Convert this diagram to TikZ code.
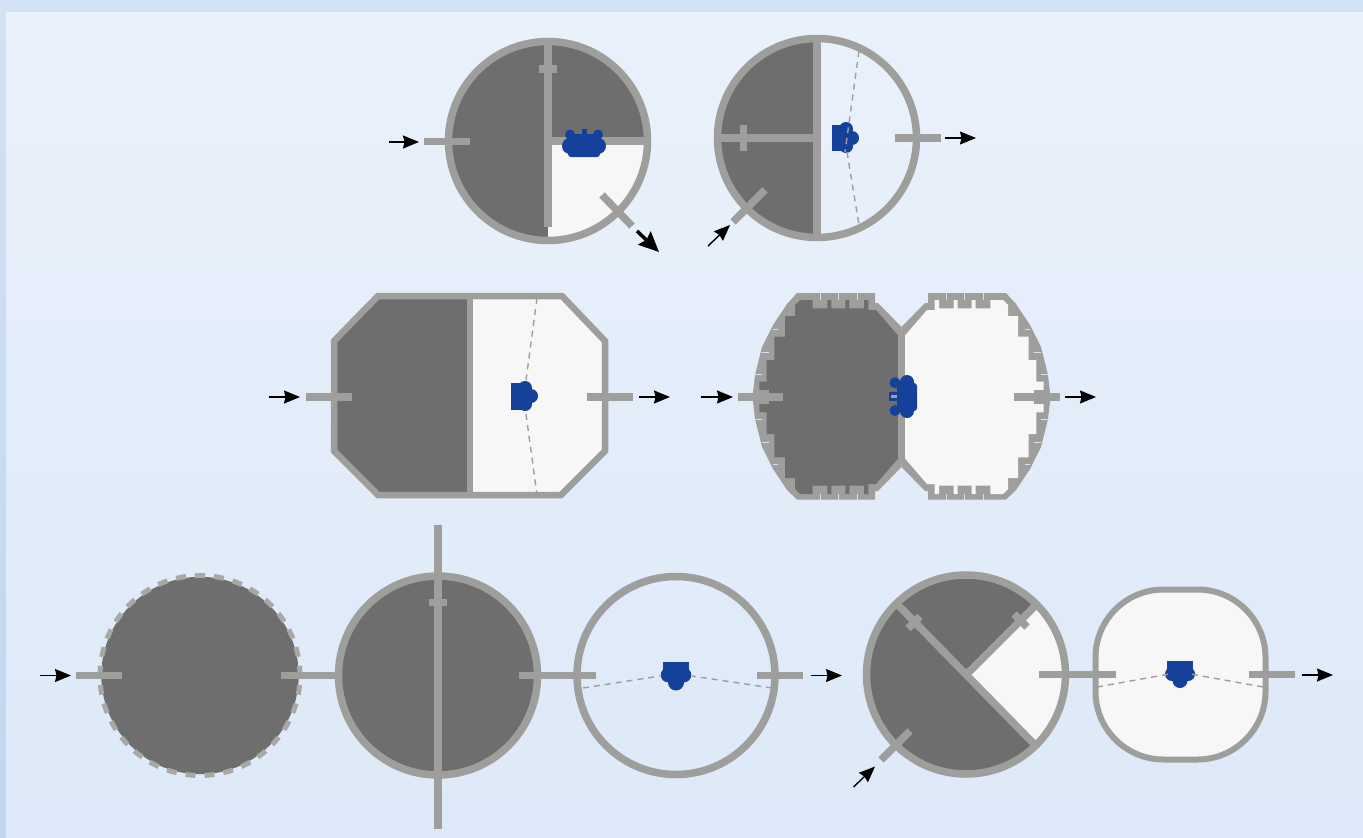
\documentclass[tikz,border=0pt]{standalone}
\usetikzlibrary{arrows.meta}
\definecolor{wallc}{HTML}{9E9E9C}
\definecolor{darkc}{HTML}{6E6E6E}
\definecolor{lightc}{HTML}{F7F7F7}
\definecolor{bluec}{HTML}{15419A}
\definecolor{stripc}{HTML}{D2E1F4}
\definecolor{stripb}{HTML}{C2D5F1}
\definecolor{panelt}{HTML}{E9F1FB}
\definecolor{panelb}{HTML}{DDE9F8}
\tikzset{
  wall/.style={draw=wallc,line width=7.5pt},
  thinwall/.style={draw=wallc,line width=6pt},
  sightline/.style={draw=wallc,line width=1.4pt,dash pattern=on 6pt off 5pt},
  flow/.style={draw=black,line width=1.4pt,-{Stealth[length=16pt,width=13pt,inset=1.5pt]}},
  bigflow/.style={draw=black,line width=3.5pt,-{Stealth[length=20pt,width=18pt,inset=2.5pt]}},
  darkfill/.style={fill=darkc},
  lightfill/.style={fill=lightc},
  motor/.style={fill=bluec},
}
\def\outerpoly{(901.5,327)--(878,303)--(875,303)--(875,293)--(797,293)--(787,304)--(773,325)--(762,347)--(755,375)--(752.5,397)--(755,419)--(762,447)--(773,469)--(787,490)--(797,499.5)--(875,499.5)--(875,491)--(878,491)--(901.5,467)--cycle}
\def\innerpoly{(898,335.5)--(876,310)--(868.3,310)--(868.3,300)--(864,300)--(864,308.3)--(849.3,308.3)--(849.3,300)--(845.3,300)--(845.3,308.3)--(831.3,308.3)--(831.3,300)--(827.3,300)--(827.3,308.3)--(812.7,308.3)--(812.7,300)--(800,300)--(795,305)--(795,316)--(785,316)--(785,336.7)--(774.3,336.7)--(774.3,360)--(766.7,360)--(766.7,381.7)--(759.3,381.7)--(759.3,412.3)--(766.7,412.3)--(766.7,434)--(774.3,434)--(774.3,457.3)--(785,457.3)--(785,478)--(795,478)--(795,489)--(800,494)--(812.7,494)--(812.7,485.7)--(827.3,485.7)--(827.3,494)--(831.3,494)--(831.3,485.7)--(845.3,485.7)--(845.3,494)--(849.3,494)--(849.3,485.7)--(864,485.7)--(864,494)--(868.3,494)--(868.3,484)--(876,484)--(898,458.5)--cycle}
\def\slits{
  \foreach \sx in {820,838.5,857}{\draw[stripc,line width=.8pt] (\sx,293)--(\sx,300) (\sx,494)--(\sx,501);}
  \draw[stripc,line width=1pt] (773,329.5)--(778,329.5) (762,352)--(769,352) (755,374.5)--(762,374.5)
     (755,419.5)--(762,419.5) (762,442)--(769,442) (773,464.5)--(778,464.5);
}
\begin{document}
\begin{tikzpicture}[x=1pt,y=-1pt]
\useasboundingbox (0,0) rectangle (1363,838);
% background
\fill[stripc] (0,0) rectangle (1363,838);
\shade[top color=stripc,bottom color=stripb] (0,12) rectangle (6,838);
\shade[top color=panelt,bottom color=panelb] (6,12) rectangle (1363,838);

% row 1, left
\fill[darkfill] (548,41.5) arc[start angle=90,end angle=270,radius=99.5pt]--cycle;
\fill[darkfill] (548,141)--(548,41.5) arc[start angle=90,end angle=0,radius=99.5pt]--cycle;
\fill[lightfill] (548,141)--(647.5,141) arc[start angle=0,end angle=-90,radius=99.5pt]--cycle;
\draw[wall] (548,141) circle[radius=99.5pt];
\draw[wall] (548,42)--(548,227);
\draw[wall] (548,141)--(646,141);
\draw[wall] (539,69)--(557,69);
\draw[wall] (424,141.5)--(470,141.5);
\draw[wall] (602,195)--(632,226);
\fill[motor] (570,146) circle[radius=8pt] (598,146) circle[radius=8pt] (570,134.5) circle[radius=5pt] (598,134.5) circle[radius=5pt];
\fill[motor,rounded corners=3pt] (568,134) rectangle (600,157);
\fill[motor] (581.5,129) rectangle (587,136);
\coordinate (a1s) at (389,142); \coordinate (a1e) at (419,142);
\draw[flow] (a1s)--(a1e);
\coordinate (a2s) at (637,231); \coordinate (a2e) at (659,252);
\draw[bigflow] (a2s)--(a2e);

% row 1, right
\fill[darkfill] (817,38.5) arc[start angle=90,end angle=270,radius=99.5pt]--cycle;
\draw[wall] (817,138) circle[radius=99.5pt];
\draw[wall] (817,38)--(817,238);
\draw[wall] (720,138)--(817,138);
\draw[wall] (743.5,125)--(743.5,151);
\draw[wall] (895,138)--(941,138);
\draw[wall] (733,222)--(765,190);
\fill[motor] (832,125) rectangle (846,151);
\fill[motor] (846,129) circle[radius=7pt] (846,146) circle[radius=7pt] (852,138) circle[radius=7pt];
\draw[sightline] (859,51)--(845,152);
\draw[sightline] (847,152)--(859,225);
\coordinate (a3s) at (945,138); \coordinate (a3e) at (976,138);
\draw[flow] (a3s)--(a3e);
\coordinate (a4s) at (708,246); \coordinate (a4e) at (730,225);
\draw[flow] (a4s)--(a4e);

% row 2, octagon
\def\octa{(378,296)--(562,296)--(605,341)--(605,451)--(561,495)--(378,495)--(334,451)--(334,341)--cycle}
\fill[lightfill] \octa;
\fill[darkfill] (378,296)--(470,296)--(470,495)--(378,495)--(334,451)--(334,341)--cycle;
\draw[draw=wallc,line width=6.5pt] \octa;
\draw[thinwall] (470,296)--(470,495);
\draw[wall] (306,397)--(352,397);
\draw[wall] (587,397)--(633,397);
\fill[motor] (511,383) rectangle (525,410);
\fill[motor] (525,388) circle[radius=7pt] (525,404) circle[radius=7pt] (531,396) circle[radius=7pt];
\draw[sightline] (537,298)--(526,380);
\draw[sightline] (526,414)--(537,495);
\coordinate (a5s) at (269,397); \coordinate (a5e) at (300,397);
\draw[flow] (a5s)--(a5e);
\coordinate (a6s) at (639,397); \coordinate (a6e) at (670,397);
\draw[flow] (a6s)--(a6e);

% row 2, pair
\fill[wallc] \outerpoly;
\fill[darkc] \innerpoly;
\slits
\begin{scope}[xscale=-1,xshift=-1803pt]
\fill[wallc] \outerpoly;
\fill[lightc] \innerpoly;
\slits
\end{scope}
\draw[wall] (901.5,331)--(901.5,463);
\draw[wall] (738,397)--(783,397);
\fill[wallc] (759,390) rectangle (769,404);
\draw[wall] (1014,397)--(1060,397);
\fill[wallc] (1034,390) rectangle (1044,404);
\fill[motor] (895,382.7) circle[radius=5.5pt] (895,410.5) circle[radius=5.5pt] (907,382) circle[radius=7pt] (907,411) circle[radius=7pt];
\fill[motor,rounded corners=3pt] (897,383) rectangle (917,411);
\fill[motor] (889,392) rectangle (900,401);
\fill[wallc] (891,395) rectangle (897,398);
\coordinate (a7s) at (701,397); \coordinate (a7e) at (733,397);
\draw[flow] (a7s)--(a7e);
\coordinate (a8s) at (1065,397); \coordinate (a8e) at (1096,397);
\draw[flow] (a8s)--(a8e);

% row 3, dashed circle
\fill[darkfill] (200,675.5) circle[radius=98.7pt];
\draw[draw=wallc!90!white,line width=5pt,dash pattern=on 10pt off 9.04pt,dash phase=5pt]
   (200,575.5) arc[start angle=90,end angle=-270,radius=100pt];
\draw[wall] (76,675.5)--(122,675.5);
\draw[wall] (281,675.5)--(357,675.5);

% row 3, circle 2
\fill[darkfill] (438,675.5) circle[radius=99.5pt];
\draw[wall] (438,675.5) circle[radius=99.5pt];
\draw[wall] (438,525)--(438,829);
\draw[wall] (429,602.5)--(447,602.5);
\draw[wall] (519,675.5)--(596,675.5);

% row 3, circle 3
\draw[wall] (676,675.5) circle[radius=99pt];
\draw[wall] (757,675.5)--(803,675.5);
\fill[motor] (662.7,662) rectangle (689.3,678);
\fill[motor] (668,675) circle[radius=7.3pt] (684,675) circle[radius=7.3pt] (676,682.5) circle[radius=8pt];
\draw[sightline] (583,688)--(660,676);
\draw[sightline] (772,688)--(692,676);
\coordinate (a9s) at (40,675.5); \coordinate (a9e) at (71,675.5);
\draw[flow] (a9s)--(a9e);
\coordinate (a10s) at (811,675.5); \coordinate (a10e) at (842,675.5);
\draw[flow] (a10s)--(a10e);

% row 3, circle 4
\fill[darkfill] (966,674.5) circle[radius=99.5pt];
\fill[lightfill] (966,674.5)--(1036.4,604.1) arc[start angle=45,end angle=-45,radius=99.5pt]--cycle;
\draw[wall] (966,674.5) circle[radius=99.5pt];
\draw[wall] (897,604)--(1035,745);
\draw[wall] (966,675)--(1036,605);
\draw[wall] (908,628.5)--(920,616.5);
\draw[wall] (1014,614)--(1027,627);
\draw[wall] (881,760)--(910,731);
\coordinate (a11s) at (853.5,787); \coordinate (a11e) at (875,766.5);
\draw[flow] (a11s)--(a11e);

% row 3, rounded square
\draw[thinwall,lightfill,rounded corners=68pt] (1095.5,589.5) rectangle (1265.5,759.5);
\draw[wall] (1039,674.5)--(1116,674.5);
\draw[wall] (1249,674.5)--(1295,674.5);
\fill[motor] (1167,660.5) rectangle (1193,677);
\fill[motor] (1172,674) circle[radius=7pt] (1188,674) circle[radius=7pt] (1180,680.5) circle[radius=7.5pt];
\draw[sightline] (1097,687)--(1172,673.5);
\draw[sightline] (1263,687)--(1188,673.5);
\coordinate (a12s) at (1302,675); \coordinate (a12e) at (1333,675);
\draw[flow] (a12s)--(a12e);
\end{tikzpicture}
\end{document}
